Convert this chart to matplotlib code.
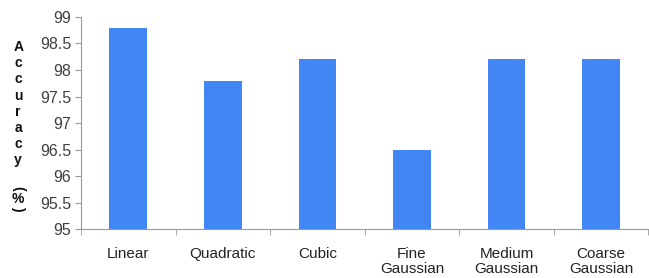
import numpy as np
import matplotlib
matplotlib.use("Agg")
import matplotlib.pyplot as plt

categories = ["Linear", "Quadratic", "Cubic", "Fine\nGaussian",
              "Medium\nGaussian", "Coarse\nGaussian"]
accuracy = [98.8, 97.8, 98.2, 96.5, 98.2, 98.2]
yticks = [95, 95.5, 96, 96.5, 97, 97.5, 98, 98.5, 99]
ylabel_chars = ["A", "c", "c", "u", "r", "a", "c", "y"]

plt.rcParams["font.family"] = ["Liberation Sans", "DejaVu Sans"]

fig = plt.figure(figsize=(6.49, 2.78), dpi=100)
ax = fig.add_axes([0.125, 0.176, 0.874, 0.763])

x = np.arange(len(categories))
ax.bar(x, np.array(accuracy) - 95, bottom=95, width=0.4, color="#4285F4")

ax.set_xlim(-0.5, len(categories) - 0.5)
ax.set_ylim(95, 99)
ax.set_yticks(yticks)
ax.set_yticklabels([f"{v:g}" for v in yticks], fontsize=11.5, color="#404040")
ax.set_xticks(x)
ax.set_xticklabels(categories, fontsize=11, color="#222222", linespacing=1.05)
ax.set_xticks(np.arange(len(categories) + 1) - 0.5, minor=True)
ax.tick_params(axis="x", which="major", length=0, pad=13)
ax.tick_params(axis="x", which="minor", length=4, color="#999999")
ax.tick_params(axis="y", length=4, color="#999999", pad=3)

for side in ["top", "right"]:
    ax.spines[side].set_visible(False)
for side in ["left", "bottom"]:
    ax.spines[side].set_color("#999999")

# stacked vertical axis label
y0 = 1 - 47 / 278
for i, ch in enumerate(ylabel_chars):
    fig.text(0.028, y0 - i * 16.2 / 278, ch, ha="center", va="center",
             fontsize=10, fontweight="bold", color="#111111")
fig.text(0.028, 1 - 188 / 278, "(", rotation=-90, ha="center", va="center",
         fontsize=10, fontweight="bold", color="#111111")
fig.text(0.028, 1 - 199 / 278, "%", ha="center", va="center",
         fontsize=10, fontweight="bold", color="#111111")
fig.text(0.028, 1 - 208 / 278, ")", rotation=-90, ha="center", va="center",
         fontsize=10, fontweight="bold", color="#111111")

fig.savefig("out.png", dpi=100)
